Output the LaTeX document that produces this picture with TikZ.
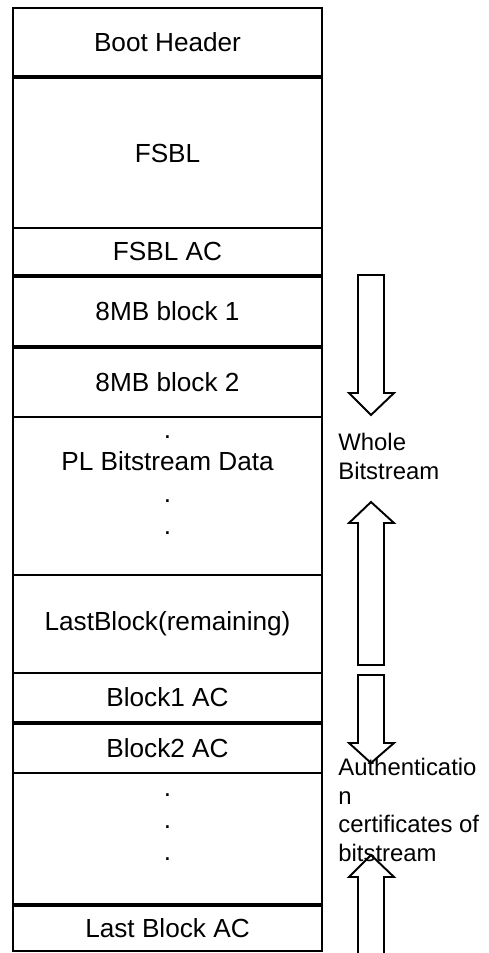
\documentclass[tikz,border=0pt]{standalone}
\usepackage{fontspec}
\setmainfont{Liberation Sans}
\begin{document}
\begin{tikzpicture}[x=0.02cm, y=-0.02cm,
  blk/.style={draw, line width=1.1pt, minimum width=6.18cm, inner sep=0pt, font=\fontsize{14.9}{18}\selectfont},
  dots/.style={align=center, inner sep=0pt, font=\fontsize{14.9}{18.2}\selectfont},
  side/.style={anchor=west, align=left, inner sep=0pt, font=\fontsize{13.6}{16.2}\selectfont},
  fat/.style={draw, line width=1.1pt, line join=miter}]
\useasboundingbox (0,0) rectangle (488,953);
% boot image layout
\node[blk, minimum height=1.36cm] (hdr) at (167.5,42) {Boot Header};
\node[blk, minimum height=3.00cm] (fsbl) at (167.5,153) {FSBL};
\node[blk, minimum height=0.94cm] (fsblac) at (167.5,251.5) {FSBL AC};
\node[blk, minimum height=1.38cm] (blka) at (167.5,311.5) {8MB block 1};
\node[blk, minimum height=1.38cm] (blkb) at (167.5,382.5) {8MB block 2};
\node[blk, minimum height=3.16cm] (pl) at (167.5,496) {};
\node[dots] (pltxt) at (167.5,485) {.\\PL Bitstream Data\\.\\.};
\node[blk, minimum height=1.96cm] (lastblk) at (167.5,624) {LastBlock(remaining)};
\node[blk, minimum height=0.98cm] (aca) at (167.5,697.5) {Block1 AC};
\node[blk, minimum height=0.98cm] (acb) at (167.5,748.5) {Block2 AC};
\node[blk, minimum height=2.62cm] (acdots) at (167.5,838.5) {};
\node[dots] (acdotstxt) at (167.5,827) {.\\.\\.};
\node[blk, minimum height=0.90cm] (lastac) at (167.5,928.5) {Last Block AC};
% labels on the right
\node[side] (whole) at (338,456.5) {Whole\\Bitstream};
\node[side] (auth) at (338,810) {Authenticatio\\n\\certificates of\\bitstream};
% hollow arrows
\draw[fat] (358,275) -- (384,275) -- (384,393) -- (394,393) -- (371,415) -- (349,393) -- (358,393) -- cycle;
\draw[fat] (358,665) -- (384,665) -- (384,523) -- (394,523) -- (371,502) -- (349,523) -- (358,523) -- cycle;
\draw[fat] (358,675) -- (384,675) -- (384,743) -- (394,743) -- (371,763) -- (349,743) -- (358,743) -- cycle;
\draw[fat] (358,953) -- (358,877) -- (349,877) -- (371,855) -- (394,877) -- (384,877) -- (384,953);
\end{tikzpicture}
\end{document}
